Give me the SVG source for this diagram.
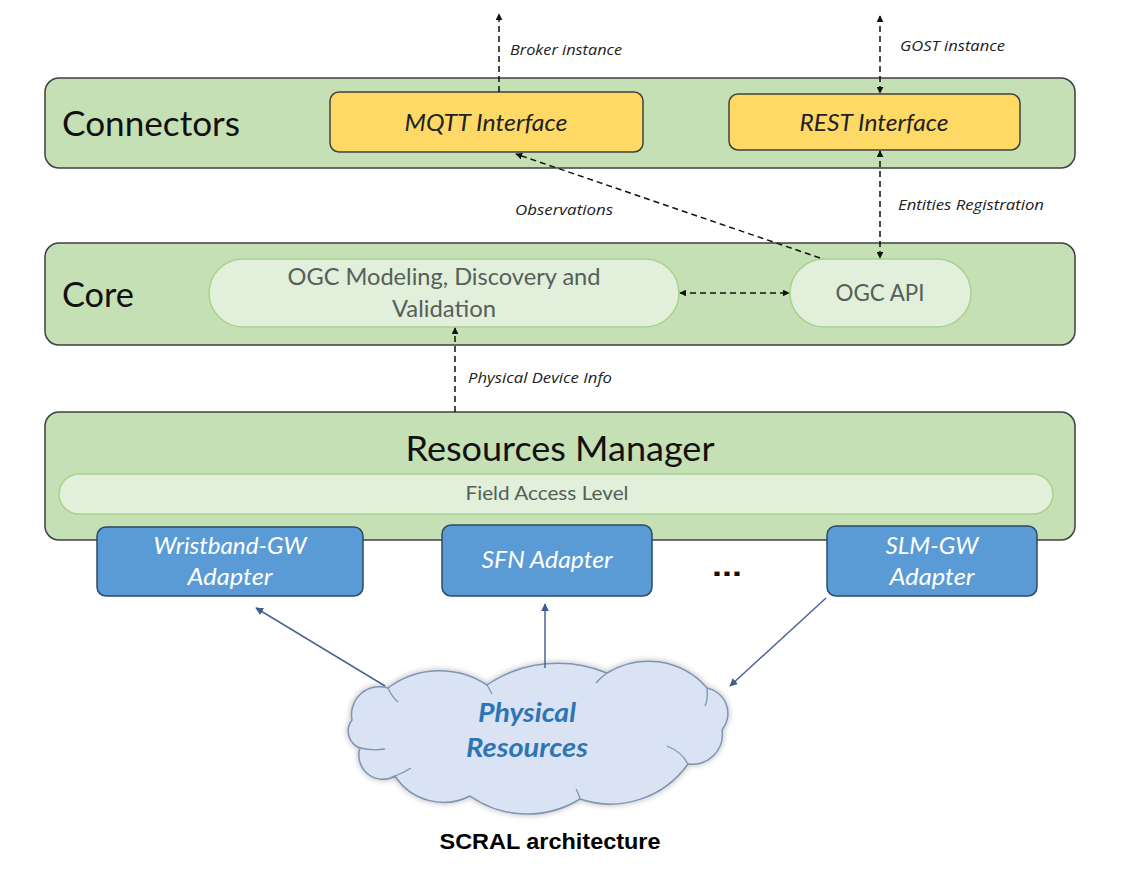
<svg xmlns="http://www.w3.org/2000/svg" width="1124" height="882" viewBox="0 0 1124 882">
<style>
.band{fill:#c5e0b4;stroke:#3f3f3f;stroke-width:1.5}
.pill{fill:#e2efda;stroke:#a9d18e;stroke-width:1.5}
.iface{fill:#ffd966;stroke:#404040;stroke-width:1.5}
.adapt{fill:#5b9bd5;stroke:#2d4a66;stroke-width:1.5}
.t{font-family:Lato,"Open Sans","Liberation Sans",sans-serif}
.big{font-size:35px;fill:#111}
.it{font-style:italic}
.ptxt{font-size:23px;fill:#55605a}
.lbl{font-size:15px;font-style:italic;fill:#222;font-family:"Open Sans",Lato,"Liberation Sans",sans-serif}
.atxt{font-size:24px;font-style:italic;fill:#fff}
.dash{stroke:#111;stroke-width:1.5;stroke-dasharray:6 4;fill:none}
.solid{stroke:#4a6590;stroke-width:1.5;fill:none}
</style>
<defs>
<marker id="ah" viewBox="0 0 10 10" refX="9" refY="5" markerWidth="7" markerHeight="7" orient="auto-start-reverse" markerUnits="userSpaceOnUse">
<path d="M0,0 L10,5 L0,10 z" fill="#111"/>
</marker>
<marker id="bh" viewBox="0 0 10 10" refX="9" refY="5" markerWidth="8" markerHeight="8" orient="auto-start-reverse" markerUnits="userSpaceOnUse">
<path d="M0,0 L10,5 L0,10 z" fill="#3f5d8f"/>
</marker>
<filter id="glow" x="-10%" y="-15%" width="120%" height="130%">
<feGaussianBlur in="SourceAlpha" stdDeviation="3"/>
<feComponentTransfer><feFuncA type="linear" slope="0.3"/></feComponentTransfer>
<feMerge><feMergeNode/><feMergeNode in="SourceGraphic"/></feMerge>
</filter>
</defs>
<rect width="1124" height="882" fill="#fff"/>

<g id="connectors-layer">
<rect class="band" x="45" y="78" width="1030" height="90" rx="14"/>
<text class="t big" x="62" y="136" textLength="178" lengthAdjust="spacingAndGlyphs">Connectors</text>
</g>
<g id="mqtt">
<rect class="iface" x="330" y="92" width="313" height="60" rx="9"/>
<text class="t it" x="486" y="131" font-size="24" text-anchor="middle" fill="#222" textLength="163" lengthAdjust="spacingAndGlyphs">MQTT Interface</text>
</g>
<g id="rest">
<rect class="iface" x="729" y="94" width="291" height="56" rx="9"/>
<text class="t it" x="874" y="131" font-size="24" text-anchor="middle" fill="#222" textLength="149" lengthAdjust="spacingAndGlyphs">REST Interface</text>
</g>

<g id="core-layer">
<rect class="band" x="45" y="243" width="1030" height="102" rx="14"/>
<text class="t big" x="62" y="307" textLength="72" lengthAdjust="spacingAndGlyphs">Core</text>
</g>
<g id="ogc-modeling">
<rect class="pill" x="209" y="259" width="470" height="68" rx="34"/>
<text class="t ptxt" x="444" y="285" text-anchor="middle" textLength="313" lengthAdjust="spacingAndGlyphs">OGC Modeling, Discovery and</text>
<text class="t ptxt" x="444" y="317" text-anchor="middle" textLength="104" lengthAdjust="spacingAndGlyphs">Validation</text>
</g>
<g id="ogc-api">
<rect class="pill" x="790" y="259" width="181" height="68" rx="34"/>
<text class="t ptxt" x="880" y="301" text-anchor="middle" textLength="89" lengthAdjust="spacingAndGlyphs">OGC API</text>
</g>

<g id="resources-manager">
<rect class="band" x="45" y="412" width="1030" height="128" rx="14"/>
<text class="t big" x="560" y="461" text-anchor="middle" textLength="309" lengthAdjust="spacingAndGlyphs">Resources Manager</text>
</g>
<g id="field-access">
<rect class="pill" x="59" y="474" width="994" height="40" rx="20"/>
<text class="t" x="547" y="500" font-size="20" fill="#55605a" text-anchor="middle" textLength="163" lengthAdjust="spacingAndGlyphs">Field Access Level</text>
</g>

<g id="wristband">
<rect class="adapt" x="97" y="527" width="266" height="69" rx="9"/>
<text class="t atxt" x="230" y="554" text-anchor="middle" textLength="153" lengthAdjust="spacingAndGlyphs">Wristband-GW</text>
<text class="t atxt" x="230" y="585" text-anchor="middle" textLength="85" lengthAdjust="spacingAndGlyphs">Adapter</text>
</g>
<g id="sfn">
<rect class="adapt" x="442" y="525" width="210" height="71" rx="9"/>
<text class="t atxt" x="547" y="568" text-anchor="middle" textLength="131" lengthAdjust="spacingAndGlyphs">SFN Adapter</text>
</g>
<g id="dots">
<text x="727" y="576" font-family="'Liberation Sans',Arial,sans-serif" font-size="30" font-weight="bold" text-anchor="middle" fill="#111" textLength="30" lengthAdjust="spacingAndGlyphs">...</text>
</g>
<g id="slm">
<rect class="adapt" x="827" y="526" width="210" height="70" rx="9"/>
<text class="t atxt" x="932" y="554" text-anchor="middle" textLength="93" lengthAdjust="spacingAndGlyphs">SLM-GW</text>
<text class="t atxt" x="932" y="585" text-anchor="middle" textLength="85" lengthAdjust="spacingAndGlyphs">Adapter</text>
</g>

<g id="physical-resources">
<path filter="url(#glow)" fill="#dae3f3" stroke="#7f93b2" stroke-width="1.5" d="M352,720 A28,28 0 0 1 388,688 A86,86 0 0 1 487,685 A127,127 0 0 1 607,673 A78,78 0 0 1 707,688 A26,26 0 0 1 722,730 A30,30 0 0 1 688,764 A95,95 0 0 1 580,799 A100,100 0 0 1 470,796 A58,58 0 0 1 395,776 A24,24 0 0 1 360,748 A18,18 0 0 1 352,720 Z"/>
<path d="M388,688 Q392,697 398,702 M487,685 Q490,690 492,694 M607,673 Q600,678 596,683 M707,688 Q708,700 705,706 M688,764 Q682,752 667,746 M580,799 Q579,794 576,789 M395,776 Q403,773 411,768 M360,748 Q372,751 385,749" fill="none" stroke="#7f93b2" stroke-width="1.3"/>
<text class="t" x="527" y="722" font-size="27" font-weight="bold" font-style="italic" fill="#2e75b6" text-anchor="middle" textLength="98" lengthAdjust="spacingAndGlyphs">Physical</text>
<text class="t" x="527" y="757" font-size="27" font-weight="bold" font-style="italic" fill="#2e75b6" text-anchor="middle" textLength="122" lengthAdjust="spacingAndGlyphs">Resources</text>
</g>

<g id="connectors">
<line class="dash" x1="499" y1="92" x2="499" y2="14" marker-end="url(#ah)"/>
<text class="lbl" x="510" y="55" textLength="112" lengthAdjust="spacingAndGlyphs">Broker instance</text>
<line class="dash" x1="880" y1="16" x2="880" y2="93" marker-start="url(#ah)" marker-end="url(#ah)"/>
<text class="lbl" x="900" y="51" textLength="105" lengthAdjust="spacingAndGlyphs">GOST instance</text>
<line class="dash" x1="880" y1="151" x2="880" y2="258" marker-start="url(#ah)" marker-end="url(#ah)"/>
<text class="lbl" x="898" y="210" textLength="146" lengthAdjust="spacingAndGlyphs">Entities Registration</text>
<line class="dash" x1="820" y1="258" x2="516" y2="154" marker-end="url(#ah)"/>
<text class="lbl" x="515" y="215" textLength="98" lengthAdjust="spacingAndGlyphs">Observations</text>
<line class="dash" x1="680" y1="293" x2="789" y2="293" marker-start="url(#ah)" marker-end="url(#ah)"/>
<line class="dash" x1="455" y1="412" x2="455" y2="328" marker-end="url(#ah)"/>
<text class="lbl" x="468" y="383" textLength="144" lengthAdjust="spacingAndGlyphs">Physical Device Info</text>
<line class="solid" x1="385" y1="686" x2="256" y2="608" marker-end="url(#bh)"/>
<line class="solid" x1="545" y1="668" x2="545" y2="604" marker-end="url(#bh)"/>
<line class="solid" x1="826" y1="598" x2="730" y2="686" marker-end="url(#bh)"/>
</g>

<text x="550" y="849" font-family="'Liberation Sans',Arial,sans-serif" font-size="22" font-weight="bold" text-anchor="middle" fill="#000" textLength="221" lengthAdjust="spacingAndGlyphs">SCRAL architecture</text>
</svg>
